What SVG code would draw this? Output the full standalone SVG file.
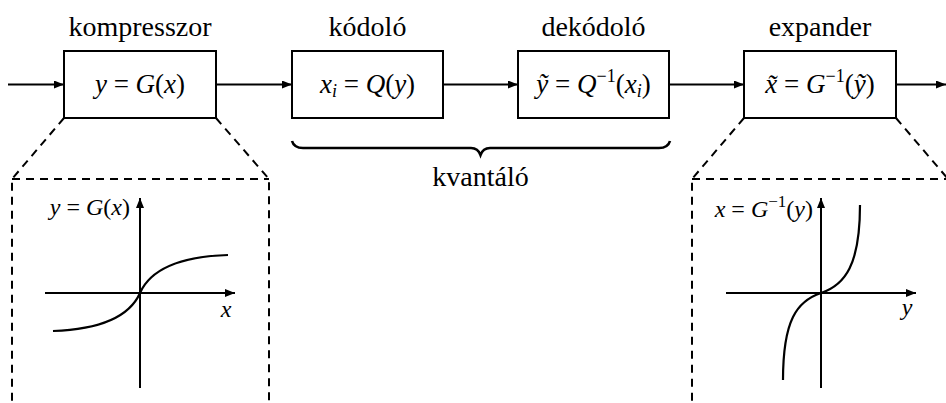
<svg xmlns="http://www.w3.org/2000/svg" width="946" height="403" viewBox="0 0 946 403">
<defs>
<marker id="ah" markerUnits="userSpaceOnUse" markerWidth="10" markerHeight="8" refX="10" refY="4" orient="auto"><path d="M0,0 L10,4 L0,8 Z" fill="#000"/></marker>
</defs>
<style>
.box{fill:#fff;stroke:#000;stroke-width:2}
.ln{fill:none;stroke:#000;stroke-width:2}
.cv{fill:none;stroke:#000;stroke-width:2.2}
.dash{fill:none;stroke:#000;stroke-width:2;stroke-dasharray:8 6}
text{font-family:'Liberation Serif','Times New Roman',Times,'DejaVu Serif',serif;fill:#000}
.lbl{font-size:28px;text-anchor:middle}
.m{font-size:27px;text-anchor:middle}
.pm{font-size:24px}
.i{font-style:italic}
</style>
<rect width="946" height="403" fill="#fff"/>
<g id="connectors">
<line class="ln" x1="8" y1="84.5" x2="64" y2="84.5" marker-end="url(#ah)"/>
<line class="ln" x1="216" y1="84.5" x2="292" y2="84.5" marker-end="url(#ah)"/>
<line class="ln" x1="443" y1="84.5" x2="518" y2="84.5" marker-end="url(#ah)"/>
<line class="ln" x1="669" y1="84.5" x2="744" y2="84.5" marker-end="url(#ah)"/>
<line class="ln" x1="896" y1="84.5" x2="946" y2="84.5" marker-end="url(#ah)"/>
</g>
<g id="kompresszor">
<text class="lbl" x="140" y="36" font-family="Liberation Serif, serif">kompresszor</text>
<rect class="box" x="64" y="51" width="152" height="67"/>
<text class="m" x="140" y="93"><tspan class="i">y</tspan> = <tspan class="i">G</tspan>(<tspan class="i">x</tspan>)</text>
</g>
<g id="kodolo">
<text class="lbl" x="367.5" y="36">kódoló</text>
<rect class="box" x="292" y="51" width="151" height="67"/>
<text class="m" x="367.5" y="93"><tspan class="i">x</tspan><tspan class="i" font-size="18" dy="4">i</tspan><tspan dy="-4"> = </tspan><tspan class="i">Q</tspan>(<tspan class="i">y</tspan>)</text>
</g>
<g id="dekodolo">
<text class="lbl" x="593.5" y="36">dekódoló</text>
<rect class="box" x="518" y="51" width="151" height="67"/>
<text class="m" x="593.5" y="93"><tspan class="i">ỹ</tspan> = <tspan class="i">Q</tspan><tspan font-size="18" dy="-11">−1</tspan><tspan dy="11">(</tspan><tspan class="i">x</tspan><tspan class="i" font-size="18" dy="4">i</tspan><tspan dy="-4">)</tspan></text>
</g>
<g id="expander">
<text class="lbl" x="820" y="36">expander</text>
<rect class="box" x="744" y="51" width="152" height="67"/>
<text class="m" x="820" y="93"><tspan class="i">x̃</tspan> = <tspan class="i">G</tspan><tspan font-size="18" dy="-11">−1</tspan><tspan dy="11">(</tspan><tspan class="i">ỹ</tspan>)</text>
</g>
<g id="kvantalo">
<path d="M292,141 Q294,148 303,148 L471,148 Q478,148 480.5,155 Q483,148 490,148 L659,148 Q668,148 670,141" fill="none" stroke="#000" stroke-width="2.6"/>
<text class="lbl" x="480.5" y="186">kvantáló</text>
</g>
<g id="zoom-left">
<path class="dash" d="M64,118 L12,179 L12,403"/>
<path class="dash" d="M216,118 L269,179 L269,403"/>
<path class="dash" d="M12,179 L269,179"/>
<line class="ln" x1="140" y1="388" x2="140" y2="198" marker-end="url(#ah)"/>
<line class="ln" x1="45" y1="293" x2="235" y2="293" marker-end="url(#ah)"/>
<path class="cv" d="M53,331 C110,329 132,311 140,293 C148,275 170,257 228,255"/>
<text class="pm" x="130" y="215" text-anchor="end"><tspan class="i">y</tspan> = <tspan class="i">G</tspan>(<tspan class="i">x</tspan>)</text>
<text class="pm i" x="226" y="317" text-anchor="middle">x</text>
</g>
<g id="zoom-right">
<path class="dash" d="M744,118 L692,179 L692,403"/>
<path class="dash" d="M692,179 L948,179"/>
<path class="dash" d="M896,118 L948,179"/>
<line class="ln" x1="821" y1="388" x2="821" y2="198" marker-end="url(#ah)"/>
<line class="ln" x1="726" y1="293" x2="916" y2="293" marker-end="url(#ah)"/>
<path class="cv" d="M783,380 C783,320 797,301 821,293 C845,285 860,265 860,205"/>
<text class="pm" x="813" y="217" text-anchor="end"><tspan class="i">x</tspan> = <tspan class="i">G</tspan><tspan font-size="17" dy="-10">−1</tspan><tspan dy="10">(</tspan><tspan class="i">y</tspan>)</text>
<text class="pm i" x="907" y="315" text-anchor="middle">y</text>
</g>
</svg>
